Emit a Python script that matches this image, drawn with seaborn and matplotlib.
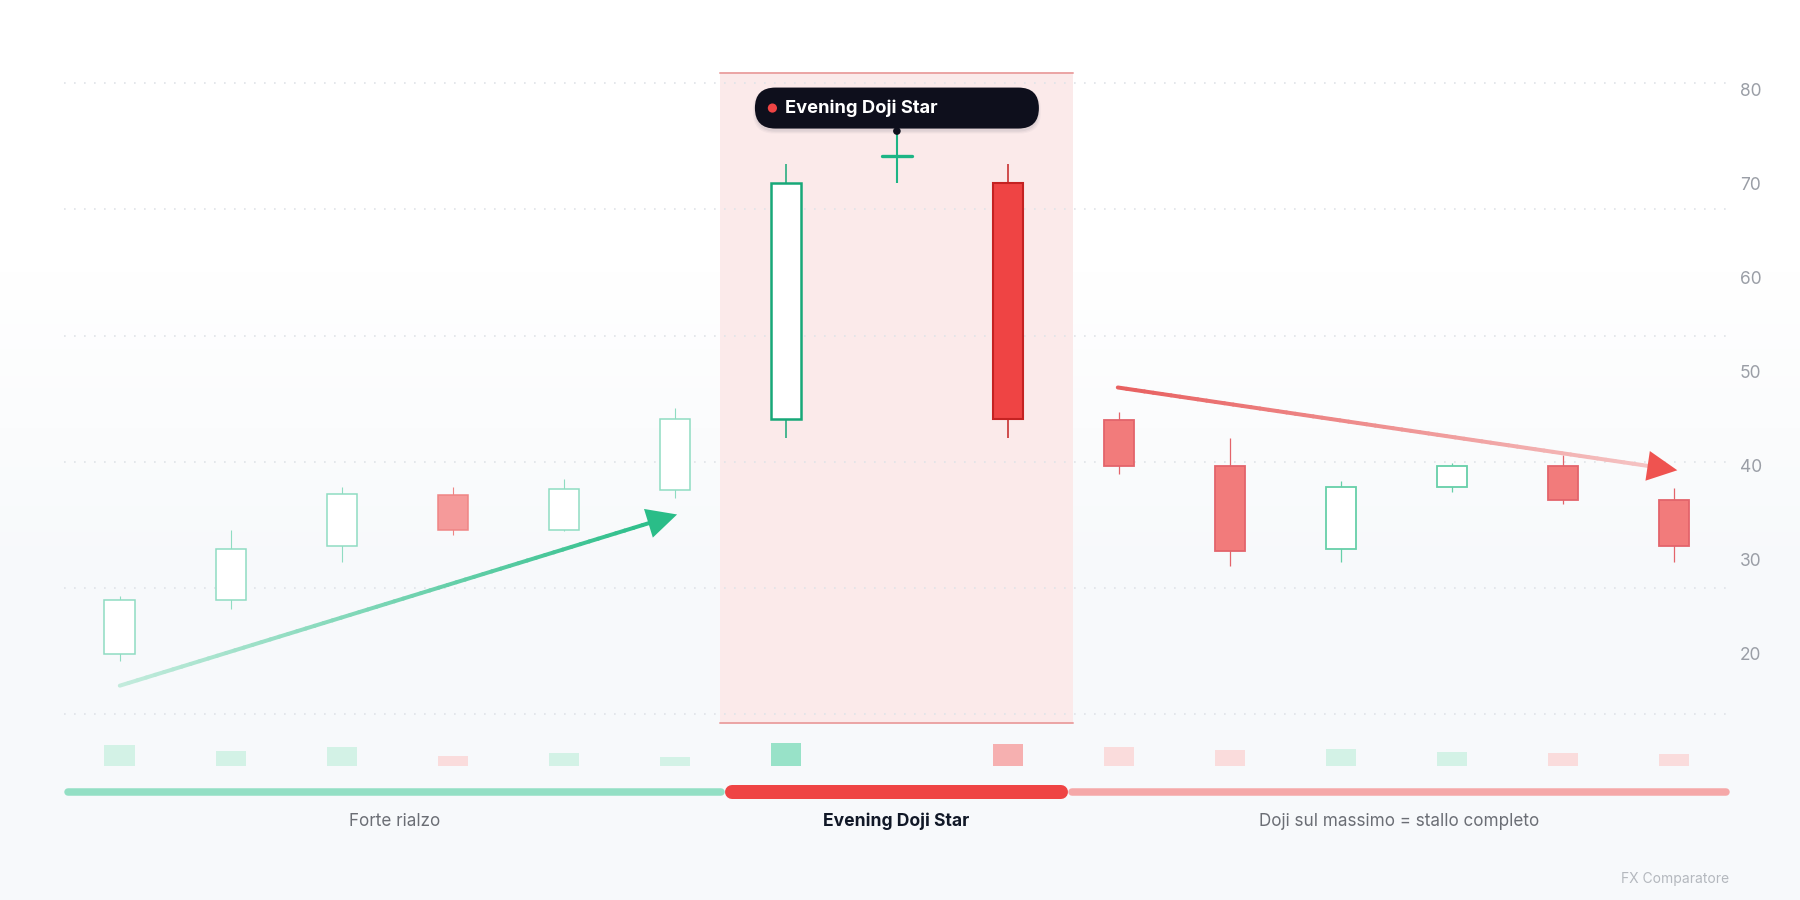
import numpy as np
import pandas as pd
import seaborn as sns
import matplotlib.pyplot as plt
from matplotlib.collections import LineCollection
from matplotlib.colors import to_rgb, LinearSegmentedColormap
from matplotlib.patches import FancyBboxPatch, Polygon, Circle
from matplotlib.transforms import IdentityTransform

# ---- dati ----
opens = [20.0, 25.7, 31.4, 36.9, 33.2, 37.4, 45.0, 72.9, 70.0, 44.8, 40.0, 31.1, 37.7, 40.0, 36.3]
closes = [25.7, 31.1, 37.0, 33.2, 37.5, 45.0, 70.0, 72.9, 45.0, 40.0, 30.9, 37.7, 40.0, 36.3, 31.4]
highs = [26.1, 33.1, 37.7, 37.7, 38.6, 46.1, 72.1, 75.4, 72.1, 45.7, 42.9, 38.4, 40.3, 41.1, 37.6]
lows = [19.2, 24.8, 29.7, 32.6, 33.0, 36.6, 42.9, 70.0, 42.9, 39.1, 29.3, 29.8, 37.2, 35.9, 29.7]
volumes = [20.7, 14.7, 18.3, 9.7, 12.3, 8.7, 22.3, 0.0, 21.7, 19.0, 15.7, 16.3, 13.7, 13.0, 12.0]

pattern_idx = [6, 7, 8]          # le tre candele dell'Evening Doji Star
star_idx = 7
pattern_name = "Evening Doji Star"

phase_labels = ["Forte rialzo", "Evening Doji Star", "Doji sul massimo = stallo completo"]
phase_edges = [-0.5, 5.45, 8.54, 14.5]

up_arrow = [(0.0, 16.6), (5.02, 34.8)]
down_arrow = [(8.99, 48.3), (14.03, 39.5)]

y_ticks = [20, 30, 40, 50, 60, 70, 80]
watermark = "FX Comparatore"

# ---- stile ----
sns.set_theme(style="white")
plt.rcParams["font.family"] = ["Inter", "DejaVu Sans"]

n = len(opens)
x = np.arange(n)
BODY_W = 0.276
X_LIM = (-0.5, 14.5)
Y_LIM = (12.6, 81.7)

fig = plt.figure(figsize=(18, 9), dpi=100)

# sfondo sfumato
bg = fig.add_axes([0, 0, 1, 1], zorder=-10)
t = np.linspace(0, 1, 300)
g = np.clip((t - 0.3) / 0.35, 0, 1)[:, None]
bg.imshow(g, aspect="auto", extent=[0, 1, 0, 1],
          cmap=LinearSegmentedColormap.from_list("bg", ["#ffffff", "#f7f9fb"]))
bg.axis("off")

ax = fig.add_axes([64.3 / 1800, 1 - 723.3 / 900, 1665.2 / 1800, 650 / 900])
ax.set_facecolor("none")
ax.set_xlim(*X_LIM)
ax.set_ylim(*Y_LIM)
for s in ax.spines.values():
    s.set_visible(False)

# banda del pattern
b0, b1 = pattern_idx[0] - 0.59, pattern_idx[-1] + 0.59
ax.axvspan(b0, b1, color="#fbeaea", zorder=0, lw=0)
ax.plot([b0, b1], [Y_LIM[1], Y_LIM[1]], color="#eba4a4", lw=1.4, clip_on=False, zorder=1)
ax.plot([b0, b1], [Y_LIM[0], Y_LIM[0]], color="#eba4a4", lw=1.4, clip_on=False, zorder=1)

# griglia punteggiata
ax.hlines(np.linspace(13.56, 80.66, 6), X_LIM[0], X_LIM[1], colors="#dfe3e8",
          linestyles=(0, (1, 5)), lw=1.2, zorder=1)


def candle_style(i):
    up = closes[i] > opens[i]
    if i in pattern_idx:
        if i == star_idx:
            return "#1db585", "#1db585", 1.5, 1.5
        if up:
            return "#ffffff", "#17a878", 1.8, 1.1
        return "#ef4444", "#c42222", 1.5, 1.1
    if i < pattern_idx[0]:
        if up:
            return "#ffffff", "#8fdcc2", 1.1, 0.8
        return "#f59a9a", "#ef8585", 1.1, 0.8
    if up:
        return "#ffffff", "#66cfa8", 1.3, 0.9
    return "#f27b7b", "#e3646b", 1.3, 0.9


for i in range(n):
    fill, edge, lw, wlw = candle_style(i)
    ax.vlines(x[i], lows[i], highs[i], color=edge, lw=wlw, zorder=2)
    if opens[i] == closes[i]:
        ax.hlines(opens[i], x[i] - BODY_W / 2, x[i] + BODY_W / 2, color=edge, lw=2.4,
                  zorder=3, capstyle="round")
    else:
        ax.bar(x[i], abs(closes[i] - opens[i]), bottom=min(opens[i], closes[i]),
               width=BODY_W, color=fill, edgecolor=edge, linewidth=lw, zorder=3)

ax.set_xticks([])
ax.set_yticks(y_ticks)
ax.set_yticklabels([str(v) for v in y_ticks])
ax.yaxis.tick_right()
ax.tick_params(axis="y", length=0, pad=7.6, labelsize=12.5, labelcolor="#9a9ea6")
ax.grid(False)


# frecce di tendenza con sfumatura
def gradient_arrow(p0, p1, c0, c1, head_color, lw_px=4.0, head_len=30, head_half=15):
    T = ax.transData
    a = np.array(T.transform(p0))
    b = np.array(T.transform(p1))
    d = (b - a) / np.hypot(*(b - a))
    perp = np.array([-d[1], d[0]])
    base = b - d * head_len
    pts = np.linspace(a, base + d * 3, 61)
    segs = [[pts[k], pts[k + 1]] for k in range(60)]
    r0, r1 = np.array(to_rgb(c0)), np.array(to_rgb(c1))
    cols = [r0 + (r1 - r0) * k / 59 for k in range(60)]
    lc = LineCollection(segs, colors=cols, linewidths=lw_px * 0.72,
                        transform=IdentityTransform(), capstyle="round", zorder=4)
    lc.set_clip_on(False)
    ax.add_collection(lc)
    head = Polygon([b, base + perp * head_half, base - perp * head_half], closed=True,
                   fc=head_color, ec="none", transform=IdentityTransform(), zorder=5,
                   clip_on=False)
    ax.add_patch(head)


gradient_arrow(up_arrow[0], up_arrow[1], "#c2ebdc", "#2fbf8b", "#2abd88")
gradient_arrow(down_arrow[0], down_arrow[1], "#e86060", "#f5c3c3", "#ef5350")

# etichetta del pattern
px, py = ax.transData.transform((x[star_idx], highs[star_idx]))
for k, al in enumerate([0.05, 0.04, 0.03]):
    ax.add_patch(FancyBboxPatch((px - 142 - k, py + 4 - 3 - k), 284 + 2 * k, 41 + 2 * k,
                                boxstyle="round,pad=0,rounding_size=21", fc="#1b1f3a",
                                alpha=al, ec="none", transform=IdentityTransform(),
                                zorder=9, clip_on=False))
ax.add_patch(FancyBboxPatch((px - 142, py + 4), 284, 41,
                            boxstyle="round,pad=0,rounding_size=20.5", fc="#0e0f1c",
                            ec="none", transform=IdentityTransform(), zorder=10,
                            clip_on=False))
ax.add_patch(Circle((px - 124.5, py + 24.5), 4.6, fc="#ef4444", ec="none",
                    transform=IdentityTransform(), zorder=11, clip_on=False))
ax.add_patch(Circle((px, py + 1.5), 3.8, fc="#0e0f1c", ec="none",
                    transform=IdentityTransform(), zorder=11, clip_on=False))
ax.text(px - 112, py + 24.5, pattern_name, transform=IdentityTransform(), color="white",
        fontsize=13.2, fontweight="bold", ha="left", va="center", zorder=12)

# volumi
vax = fig.add_axes([64.3 / 1800, 1 - 765.7 / 900, 1665.2 / 1800, 40 / 900])
vax.set_facecolor("none")
vol_colors = {}
for i in range(n):
    up = closes[i] >= opens[i]
    if i in pattern_idx:
        vol_colors[str(i)] = "#98e2c8" if up else "#f6b0b0"
    else:
        vol_colors[str(i)] = "#d3f2e6" if up else "#fadcdc"
vol_df = pd.DataFrame({"bar": [str(i) for i in x], "volume": volumes})
sns.barplot(data=vol_df, x="bar", y="volume", hue="bar", palette=vol_colors,
            order=[str(i) for i in x], width=BODY_W, saturation=1, linewidth=0,
            errorbar=None, legend=False, ax=vax)
vax.set_xlim(*X_LIM)
vax.set_ylim(0, 40)
vax.axis("off")

# barra delle fasi
pax = fig.add_axes([64.3 / 1800, 1 - 850 / 900, 1665.2 / 1800, 80 / 900])
pax.set_xlim(*X_LIM)
pax.set_ylim(0, 1)
pax.axis("off")
px_per_unit = 1665.2 / 15
phase_colors = ["#93dfc4", "#ef4444", "#f5a8a8"]
phase_lw = [7.5, 14, 7.5]
for k in range(3):
    s, e = phase_edges[k], phase_edges[k + 1]
    cap = phase_lw[k] / 2 / px_per_unit
    pax.plot([s + cap, e - cap], [0.725, 0.725], color=phase_colors[k],
             lw=phase_lw[k] * 0.72, solid_capstyle="round", zorder=3 if k == 1 else 2)
    mid = (s + e) / 2
    if k == 1:
        pax.text(mid, 0.354, phase_labels[k], ha="center", va="center", fontsize=12.6,
                 fontweight="bold", color="#111827")
    else:
        pax.text(mid, 0.354, phase_labels[k], ha="center", va="center", fontsize=12.3,
                 color="#6b6e75")

fig.text(1729 / 1800, 1 - 879 / 900, watermark, ha="right", va="center", fontsize=10,
         color="#b4b8be")

fig.savefig("out.png", dpi=100)
